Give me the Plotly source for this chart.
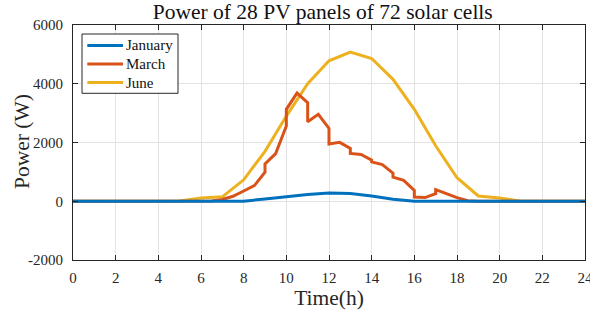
import plotly.graph_objects as go

hours = list(range(0, 25))
january = [0, 0, 0, 0, 0, 0, 0, 0, 0, 80, 160, 230, 280, 265, 180, 70, 0, 0, 0, 0, 0, 0, 0, 0, 0]
june = [0, 0, 0, 0, 0, 10, 110, 150, 730, 1700, 2900, 4000, 4780, 5080, 4860, 4150, 3130, 1890, 800, 180, 110, 0, 0, 0, 0]

march_t = [0, 1, 2, 3, 4, 5, 6, 6.5, 7.0, 7.5, 8.0, 8.5, 9.0, 9.0, 9.5, 10.0, 10.0, 10.5, 11.0, 11.0,
           11.5, 12.0, 12.0, 12.5, 13.0, 13.0, 13.5, 14.0, 14.0, 14.5, 15.0, 15.0, 15.5, 16.0, 16.0,
           16.5, 17.0, 17.0, 18.0, 18.5, 19.0, 20, 21, 22, 23, 24]
march = [0, 0, 0, 0, 0, 0, 0, 10, 60, 170, 350, 530, 990, 1270, 1620, 2560, 3130, 3680, 3355, 2710,
         2960, 2480, 1950, 2005, 1800, 1630, 1590, 1400, 1340, 1250, 955, 820, 710, 370, 145,
         125, 260, 395, 125, 15, 0, 0, 0, 0, 0, 0]

y_ticks = [-2000, 0, 2000, 4000, 6000]
y_tick_labels = ["-2000", "0", "2000", "4000", "6000"]
x_ticks = list(range(0, 25, 2))

series_names = ["January", "March", "June"]
series_colors = ["#0072BD", "#D95319", "#EDB120"]

title_text = "Power of 28 PV panels of 72 solar cells"
x_title = "Time(h)"
y_title = "Power (W)"

FONT = "Liberation Serif"
AX = "#262626"

# plot-area geometry in pixels (for legend placement)
W, H = 590, 317
ML, MR, MT, MB = 73, 5, 25, 57
PW, PH = W - ML - MR, H - MT - MB


def px_x(X):
    return (X - ML) / PW


def px_y(Y):
    return (H - MB - Y) / PH


fig = go.Figure()
data_by_name = {
    "January": (hours, january),
    "March": (march_t, march),
    "June": (hours, june),
}
# draw June first, January last (January on top)
for name in ["June", "March", "January"]:
    xs, ys = data_by_name[name]
    fig.add_trace(go.Scatter(x=xs, y=ys, name=name, mode="lines", showlegend=False,
                             line=dict(color=series_colors[series_names.index(name)], width=3)))

axis_common = dict(
    showline=True, linecolor=AX, linewidth=1, mirror="ticks",
    ticks="inside", ticklen=5, tickcolor=AX, tickwidth=1,
    showgrid=True, gridcolor="#e3e3e3", gridwidth=1,
    zeroline=False, automargin=False,
    tickfont=dict(family=FONT, size=15, color=AX),
    ticklabeloverflow="allow",
)

# manual legend (box, line samples, labels)
shapes = [dict(type="rect", xref="paper", yref="paper",
               x0=px_x(82), x1=px_x(178), y0=px_y(93.3), y1=px_y(34),
               line=dict(color=AX, width=1), fillcolor="white", layer="above")]
annotations = []
legend_rows = [45.5, 64, 82.5]
for name, color, ry in zip(series_names, series_colors, legend_rows):
    shapes.append(dict(type="line", xref="paper", yref="paper",
                       x0=px_x(87.3), x1=px_x(123), y0=px_y(ry), y1=px_y(ry),
                       line=dict(color=color, width=3), layer="above"))
    annotations.append(dict(text=name, xref="paper", yref="paper",
                            x=px_x(124), y=px_y(ry), xanchor="left", yanchor="middle",
                            showarrow=False,
                            font=dict(family=FONT, size=15, color="#111")))

annotations.append(dict(text=y_title, xref="paper", yref="paper",
                        x=px_x(22), y=px_y(142), xanchor="center", yanchor="middle",
                        textangle=-90, showarrow=False,
                        font=dict(family=FONT, size=21.5, color=AX)))

fig.update_layout(
    width=W, height=H,
    margin=dict(l=ML, r=MR, t=MT, b=MB),
    paper_bgcolor="white", plot_bgcolor="white",
    font=dict(family=FONT, color=AX),
    title=dict(text=title_text, x=0.547, xref="container", xanchor="center",
               y=0.965, yref="container", yanchor="middle",
               font=dict(family=FONT, size=21.5, color="#111")),
    xaxis=dict(range=[0, 24], tickvals=x_ticks,
               title=dict(text=x_title, font=dict(family=FONT, size=21.5, color=AX), standoff=4),
               ticklabelstandoff=4, **axis_common),
    yaxis=dict(range=[-2000, 6000], tickvals=y_ticks, ticktext=y_tick_labels,
               ticklabelstandoff=6, **axis_common),
    shapes=shapes,
    annotations=annotations,
    showlegend=False,
)

fig.write_html("out.html", config={"displayModeBar": False},
               post_script="document.body.style.margin='0';document.body.style.overflow='hidden';")
